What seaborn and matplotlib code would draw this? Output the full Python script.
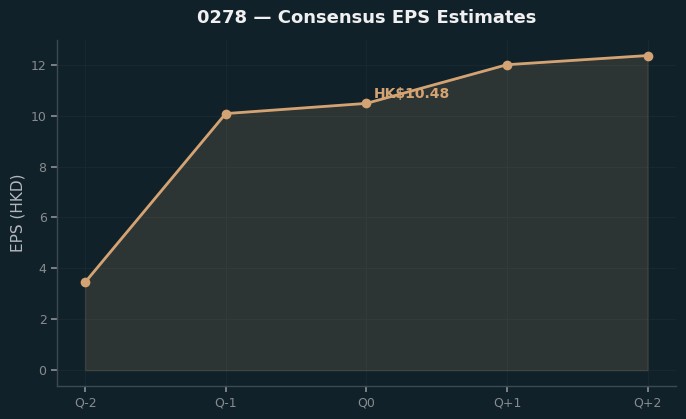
import matplotlib
matplotlib.use('Agg')
import matplotlib.pyplot as plt
import seaborn as sns
import pandas as pd

# Kvartal och konsensus-EPS
quarters = ['Q-2', 'Q-1', 'Q0', 'Q+1', 'Q+2']
eps_values = [3.45, 10.08, 10.48, 12.0, 12.36]
current_label = 'HK$10.48'

bg = '#10212a'
accent = '#d4a373'

sns.set_theme(style='dark')
plt.rcParams['font.family'] = ['DejaVu Sans']

df = pd.DataFrame({'pos': range(len(quarters)), 'eps': eps_values})

fig, ax = plt.subplots(figsize=(6.86, 4.19), dpi=100)
fig.patch.set_facecolor(bg)
ax.set_facecolor(bg)

# Fyllt område under linjen
ax.fill_between(df['pos'], df['eps'], 0, color=accent, alpha=0.15)
sns.lineplot(data=df, x='pos', y='eps', ax=ax, color=accent, linewidth=2,
             marker='o', markersize=7, markeredgewidth=0)

# Etikett vid nuvarande kvartal
i0 = quarters.index('Q0')
ax.annotate(current_label, (i0, eps_values[i0]), xytext=(5, 2),
            textcoords='offset points', ha='left', va='bottom',
            color=accent, fontsize=10, fontweight='bold')

ax.set_xticks(range(len(quarters)))
ax.set_xticklabels(quarters)
ax.set_xlabel('')
ax.set_ylabel('EPS (HKD)', color='#b5b8ba', fontsize=11)
ax.set_title('0278 — Consensus EPS Estimates', color='#f0f0f0',
             fontsize=13, fontweight='bold', pad=12)

ax.tick_params(colors='#888c8f', labelsize=9, length=4, left=True, bottom=True)
ax.grid(True, color='#172831', linewidth=0.8)
for side in ['top', 'right']:
    ax.spines[side].set_visible(False)
for side in ['left', 'bottom']:
    ax.spines[side].set_color('#3d4a50')
    ax.spines[side].set_linewidth(1)

plt.subplots_adjust(left=0.083, right=0.985, top=0.905, bottom=0.079)
plt.savefig('out.png', dpi=100, facecolor=bg)
